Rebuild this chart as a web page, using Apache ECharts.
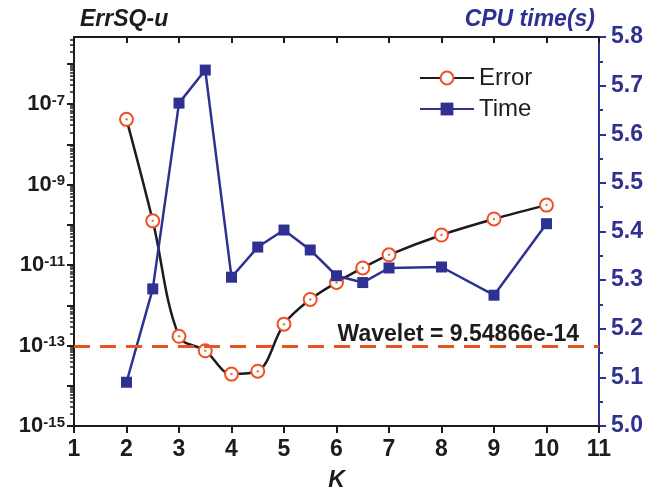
<!DOCTYPE html>
<html>
<head>
<meta charset="utf-8">
<script src="https://cdn.jsdelivr.net/npm/echarts@6/dist/echarts.min.js"></script>
<style>
  html, body { margin: 0; padding: 0; background: #fff; }
  #chart { width: 648px; height: 492px; }
</style>
</head>
<body>
<div id="chart"></div>
<script>
// K values at which both quantities were measured
const kValues = [2, 2.5, 3, 3.5, 4, 4.5, 5, 5.5, 6, 6.5, 7, 8, 9, 10];
// ErrSQ-u error (log scale, left axis)
const errorValues = [4.2e-8, 1.26e-10, 1.7e-13, 7.4e-14, 1.95e-14, 2.3e-14, 3.4e-13,
                     1.4e-12, 3.7e-12, 8.5e-12, 1.8e-11, 5.6e-11, 1.4e-10, 3.1e-10];
// CPU time in seconds (right axis)
const timeValues = [5.09, 5.282, 5.664, 5.732, 5.306, 5.368, 5.403,
                    5.362, 5.309, 5.295, 5.325, 5.327, 5.269, 5.416];
// Reference error of the wavelet method
const waveletError = 9.54866e-14;

// Left axis decades (exponents) and which of them carry a label
const decadeExponents = [-15, -14, -13, -12, -11, -10, -9, -8, -7, -6];
const labelExponents = [-15, -13, -11, -9, -7];
const leftMin = -15, leftMax = -5.33;
const xTicks = [1, 2, 3, 4, 5, 6, 7, 8, 9, 10, 11];

const ORANGE = '#EF5126';
const BLUE = '#2E3192';
const BLACK = '#1c1c1c';
const FONT = 'Arial, "Liberation Sans", sans-serif';

// minor log ticks: 2..9 x 10^n
const minorLogTicks = [];
decadeExponents.forEach(function (e) {
  for (let m = 2; m <= 9; m++) {
    const v = e + Math.log10(m);
    if (v < leftMax) minorLogTicks.push(v);
  }
});

const errorData = kValues.map(function (k, i) { return [k, Math.log10(errorValues[i])]; });
const timeData = kValues.map(function (k, i) { return [k, timeValues[i]]; });

const chart = echarts.init(document.getElementById('chart'));
chart.setOption({
  animation: false,
  backgroundColor: '#fff',
  textStyle: { fontFamily: FONT },
  title: [
    { text: 'ErrSQ-u', left: 80, top: 8, padding: 0,
      textStyle: { fontFamily: FONT, fontSize: 23, fontWeight: 'bold', fontStyle: 'italic', color: BLACK } },
    { text: 'CPU time(s)', right: 53, top: 8, padding: 0,
      textStyle: { fontFamily: FONT, fontSize: 23, fontWeight: 'bold', fontStyle: 'italic', color: BLUE } }
  ],
  legend: {
    data: ['Error', 'Time'],
    orient: 'vertical',
    left: 414, top: 61,
    itemWidth: 54, itemHeight: 16, itemGap: 7,
    textStyle: { fontFamily: FONT, fontSize: 24, color: BLACK, lineHeight: 24 }
  },
  grid: { left: 74, right: 49, top: 37, bottom: 66, containLabel: false, outerBoundsMode: 'none' },
  xAxis: [
    {
      type: 'value', position: 'bottom', min: 1, max: 11, interval: 1,
      name: 'K', nameLocation: 'middle', nameGap: 43,
      nameTextStyle: { fontFamily: FONT, fontSize: 23, fontWeight: 'bold', fontStyle: 'italic', color: BLACK },
      axisLine: { lineStyle: { color: BLACK, width: 2 } },
      axisTick: { length: 7, lineStyle: { color: BLACK, width: 2 } },
      axisLabel: { margin: 12, fontFamily: FONT, fontSize: 23, fontWeight: 'bold', color: BLACK,
                   formatter: function (v) { return xTicks.indexOf(v) >= 0 ? String(v) : ''; } },
      splitLine: { show: false }
    },
    {
      type: 'value', position: 'top', min: 1, max: 11, interval: 1,
      axisLine: { lineStyle: { color: BLACK, width: 2 } },
      axisTick: { inside: true, length: 6, lineStyle: { color: BLACK, width: 2 } },
      axisLabel: { show: false },
      splitLine: { show: false }
    }
  ],
  yAxis: [
    {
      type: 'value', position: 'left', min: leftMin, max: leftMax,
      axisLine: { show: true, lineStyle: { color: BLACK, width: 2 } },
      axisTick: { show: true, length: 7, customValues: decadeExponents, lineStyle: { color: BLACK, width: 2 } },
      axisLabel: {
        margin: 9, customValues: labelExponents,
        formatter: function (v) { return '{b|10}{s|' + v + '}'; },
        rich: {
          b: { fontFamily: FONT, fontSize: 22, fontWeight: 'bold', color: BLACK, lineHeight: 22, verticalAlign: 'bottom' },
          s: { fontFamily: FONT, fontSize: 15, fontWeight: 'bold', color: BLACK, lineHeight: 15,
               padding: [0, 0, 10, 0], verticalAlign: 'top' }
        }
      },
      splitLine: { show: false }
    },
    {
      type: 'value', position: 'right', min: 5.0, max: 5.8, interval: 0.1,
      axisLine: { show: true, lineStyle: { color: BLUE, width: 2 } },
      axisTick: { show: true, length: 7, lineStyle: { color: BLUE, width: 2 } },
      minorTick: { show: true, splitNumber: 2, length: 4, lineStyle: { color: BLUE, width: 2 } },
      axisLabel: { margin: 12, fontFamily: FONT, fontSize: 23, fontWeight: 'bold', color: BLUE,
                   formatter: function (v) { return v.toFixed(1); } },
      splitLine: { show: false }
    },
    {
      // minor logarithmic ticks of the error axis
      type: 'value', position: 'left', min: leftMin, max: leftMax,
      axisLine: { show: false },
      axisTick: { show: true, length: 4, customValues: minorLogTicks, lineStyle: { color: BLACK, width: 1.5 } },
      axisLabel: { show: false },
      splitLine: { show: false }
    }
  ],
  series: [
    {
      name: 'Error', type: 'line', xAxisIndex: 0, yAxisIndex: 0,
      data: errorData, smooth: 0.35,
      symbol: 'circle', symbolSize: 13,
      lineStyle: { color: BLACK, width: 2.5 },
      itemStyle: { color: '#fff', borderColor: ORANGE, borderWidth: 2 },
      z: 2,
      markLine: {
        silent: true, symbol: 'none',
        lineStyle: { color: ORANGE, width: 3, type: [16, 10] },
        label: {
          show: true, position: 'insideEndTop', distance: [20, 0],
          formatter: 'Wavelet = ' + waveletError.toExponential(5),
          fontFamily: FONT, fontSize: 23, fontWeight: 'bold', color: BLACK
        },
        data: [{ yAxis: Math.log10(waveletError) }]
      }
    },
    {
      // centre dot of each error marker
      name: 'ErrorDot', type: 'scatter', xAxisIndex: 0, yAxisIndex: 0,
      data: errorData, symbol: 'circle', symbolSize: 2.5,
      itemStyle: { color: ORANGE }, silent: true, z: 3
    },
    {
      name: 'Time', type: 'line', xAxisIndex: 0, yAxisIndex: 1,
      data: timeData,
      symbol: 'rect', symbolSize: 11,
      lineStyle: { color: BLUE, width: 2.5 },
      itemStyle: { color: BLUE },
      z: 4
    }
  ]
});
</script>
</body>
</html>
